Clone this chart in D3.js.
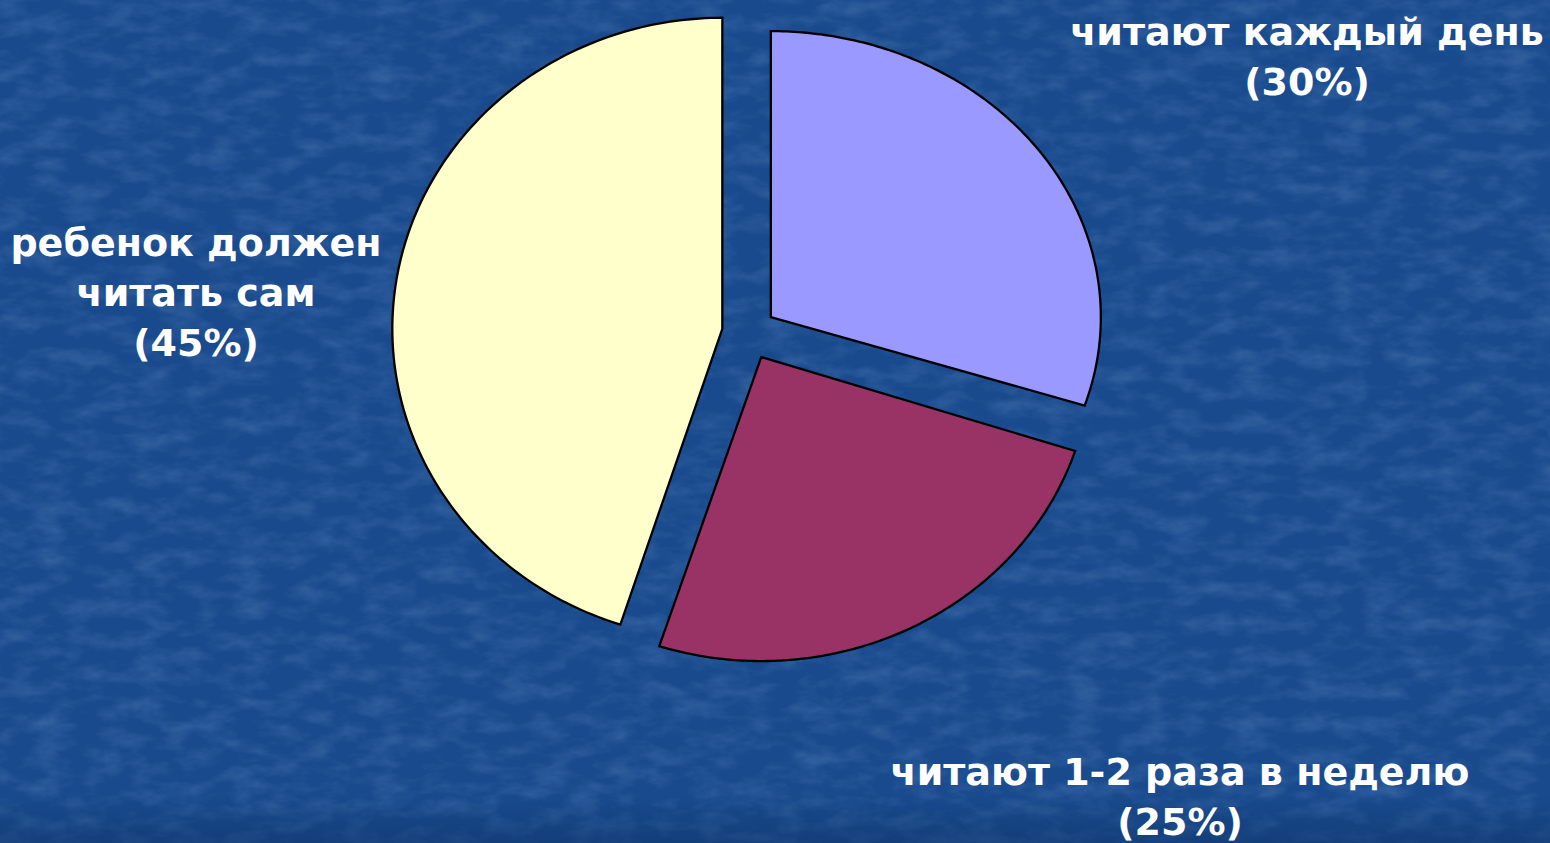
<!DOCTYPE html>
<html><head><meta charset="utf-8">
<script src="https://cdn.jsdelivr.net/npm/d3@7"></script>
<style>html,body{margin:0;padding:0;background:#194b8e;overflow:hidden}</style>
</head><body>
<svg id="c" width="1550" height="843"></svg>
<script>
// ---- data ----
const categories = ["читают каждый день", "читают 1-2 раза в неделю", "ребенок должен читать сам"];
const values = [30, 25, 45];
const labelLines = [
  ["читают каждый день", "(30%)"],
  ["читают 1-2 раза в неделю", "(25%)"],
  ["ребенок должен", "читать сам", "(45%)"]
];

// ---- style ----
const colors = ["#9999FF", "#993366", "#FFFFCC"];
const center = {x: 749, y: 333};
const explode = 27;
const rx = 330;
const ryBySlice = [286, 304, 311];
const labelPos = [{x: 1307, y: 45}, {x: 1180, y: 785}, {x: 196, y: 256}];
const lineH = 50;

const svg = d3.select("#c");
const W = 1550, H = 843;
const defs = svg.append("defs");
const f = defs.append("filter").attr("id", "tex").attr("x", 0).attr("y", 0).attr("width", "100%").attr("height", "100%");
f.append("feTurbulence").attr("type", "fractalNoise").attr("baseFrequency", "0.03 0.06").attr("numOctaves", 4).attr("seed", 11);
f.append("feColorMatrix").attr("type", "matrix")
  .attr("values", "0 0 0 0 0.5  0 0 0 0 0.65  0 0 0 0 0.95  1.4 0 0 0 -0.55");
const g2 = defs.append("linearGradient").attr("id", "btm").attr("x1", 0).attr("y1", 0).attr("x2", 0).attr("y2", 1);
g2.append("stop").attr("offset", "0").attr("stop-color", "#0d3266").attr("stop-opacity", 0);
g2.append("stop").attr("offset", "1").attr("stop-color", "#0d3266").attr("stop-opacity", 0.5);

svg.append("rect").attr("width", W).attr("height", H).attr("fill", "#184a8d");
svg.append("rect").attr("width", W).attr("height", H).attr("filter", "url(#tex)").attr("opacity", 0.22);
svg.append("rect").attr("y", 795).attr("width", W).attr("height", 48).attr("fill", "url(#btm)");

const pie = d3.pie().sort(null).value(d => d);
const arcs = pie(values);

const line = d3.line().curve(d3.curveLinearClosed);
arcs.forEach((a, i) => {
  const mid = (a.startAngle + a.endAngle) / 2;
  const ry = ryBySlice[i];
  const cx = center.x + explode * Math.sin(mid);
  const cy = center.y - explode * Math.cos(mid);
  const n = 160;
  const pts = [[cx, cy]];
  for (let k = 0; k <= n; k++) {
    const t = a.startAngle + (a.endAngle - a.startAngle) * k / n;
    pts.push([cx + rx * Math.sin(t), cy - ry * Math.cos(t)]);
  }
  svg.append("path").attr("d", line(pts))
    .attr("fill", colors[i]).attr("stroke", "#000").attr("stroke-width", 2.3)
    .attr("stroke-linejoin", "miter");
});

labelLines.forEach((lines, i) => {
  const t = svg.append("text")
    .attr("text-anchor", "middle")
    .attr("font-family", "'DejaVu Sans', Verdana, sans-serif")
    .attr("font-weight", "bold")
    .attr("font-size", 38)
    .attr("fill", "#fff");
  lines.forEach((s, j) => {
    t.append("tspan").attr("x", labelPos[i].x).attr("y", labelPos[i].y + j * lineH).text(s);
  });
});
</script>
</body></html>
